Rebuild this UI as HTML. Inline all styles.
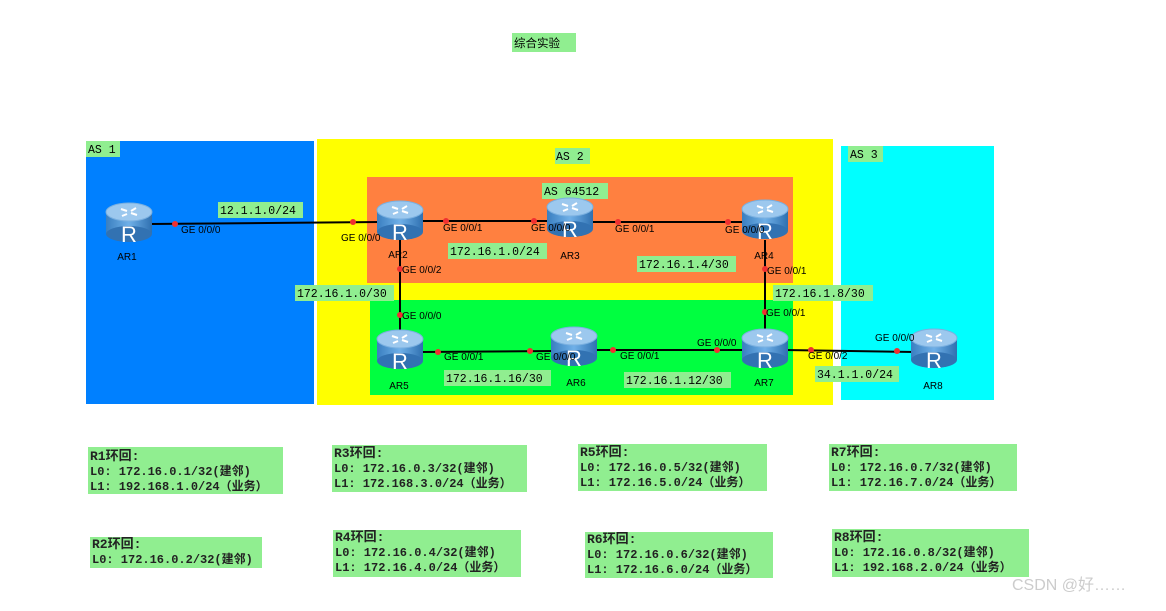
<!DOCTYPE html>
<html><head><meta charset="utf-8"><style>
body{margin:0;background:#fff;width:1166px;height:606px;overflow:hidden}
.t{font-family:"Liberation Mono","Noto Sans CJK SC",monospace;font-size:11.5px}
.b{font-size:12px}
.s{font-family:"Liberation Sans",sans-serif;font-size:10px}
</style></head><body>
<svg width="1166" height="606" xmlns="http://www.w3.org/2000/svg">
<defs>
<linearGradient id="g" x1="0" x2="1"><stop offset="0" stop-color="#3a7fc0"/><stop offset=".5" stop-color="#6fb0e8"/><stop offset="1" stop-color="#2f70b0"/></linearGradient>
<g id="r">
<rect x="-23" y="-8" width="46" height="22" fill="url(#g)"/>
<ellipse cx="0" cy="14" rx="23" ry="8" fill="#3272b2"/>
<ellipse cx="0" cy="-8" rx="23" ry="9" fill="#9cc8ee" stroke="#7ab0e0"/>
<path d="M-8 -11 l6 2 M8 -5 l-6 -2 M-7 -4 l5 -2 M7 -12 l-5 3" stroke="#fff" stroke-width="2"/>
</g>
</defs>
<rect x="512" y="33" width="64" height="19" fill="#90ee90"/>
<text x="514" y="47" class="t" font-size="13">综合实验</text>
<rect x="86" y="141" width="228" height="263" fill="#0080ff"/>
<rect x="317" y="139" width="516" height="266" fill="#ffff00"/>
<rect x="367" y="177" width="426" height="106" fill="#ff8040"/>
<rect x="370" y="300" width="423" height="95" fill="#00ff40"/>
<rect x="841" y="146" width="153" height="254" fill="#00ffff"/>
<rect x="86" y="141" width="34" height="16" fill="#90ee90"/><text x="88" y="153" class="t">AS 1</text>
<rect x="555" y="148" width="35" height="16" fill="#90ee90"/><text x="556" y="160" class="t">AS 2</text>
<rect x="542" y="183" width="66" height="16" fill="#90ee90"/><text x="544" y="195" class="t">AS 64512</text>
<rect x="848" y="146" width="35" height="16" fill="#90ee90"/><text x="850" y="158" class="t">AS 3</text>
<g stroke="#000" stroke-width="2">
<line x1="150" y1="224" x2="380" y2="222"/>
<line x1="420" y1="221" x2="550" y2="221"/>
<line x1="590" y1="222" x2="745" y2="222"/>
<line x1="400" y1="238" x2="400" y2="330"/>
<line x1="765" y1="240" x2="765" y2="330"/>
<line x1="420" y1="352" x2="555" y2="351"/>
<line x1="595" y1="350" x2="745" y2="350"/>
<line x1="785" y1="350" x2="915" y2="352"/>
</g>
<g fill="#f03030">
<circle cx="175" cy="224" r="3"/><circle cx="353" cy="222" r="3"/><circle cx="446" cy="221" r="3"/><circle cx="534" cy="221" r="3"/>
<circle cx="618" cy="222" r="3"/><circle cx="728" cy="222" r="3"/><circle cx="400" cy="269" r="3"/><circle cx="400" cy="315" r="3"/>
<circle cx="765" cy="269" r="3"/><circle cx="765" cy="312" r="3"/><circle cx="438" cy="352" r="3"/><circle cx="530" cy="351" r="3"/>
<circle cx="613" cy="350" r="3"/><circle cx="717" cy="350" r="3"/><circle cx="811" cy="350" r="3"/><circle cx="897" cy="351" r="3"/>
</g>
<use href="#r" x="129" y="220"/><use href="#r" x="400" y="218"/><use href="#r" x="570" y="215"/><use href="#r" x="765" y="217"/>
<use href="#r" x="400" y="347"/><use href="#r" x="574" y="344"/><use href="#r" x="765" y="346"/><use href="#r" x="934" y="346"/>
<g fill="#fff" font-family="Liberation Sans,sans-serif" font-size="22" text-anchor="middle">
<text x="129" y="242">R</text><text x="400" y="240">R</text><text x="570" y="237">R</text><text x="765" y="239">R</text>
<text x="400" y="369">R</text><text x="574" y="366">R</text><text x="765" y="368">R</text><text x="934" y="368">R</text>
</g>
<g class="s" text-anchor="middle" font-size="11">
<text x="127" y="260">AR1</text><text x="398" y="258">AR2</text><text x="570" y="259">AR3</text><text x="764" y="259">AR4</text>
<text x="399" y="389">AR5</text><text x="576" y="386">AR6</text><text x="764" y="386">AR7</text><text x="933" y="389">AR8</text>
</g>
<g class="s">
<text x="181" y="233">GE 0/0/0</text><text x="341" y="241">GE 0/0/0</text><text x="443" y="231">GE 0/0/1</text><text x="531" y="231">GE 0/0/0</text>
<text x="615" y="232">GE 0/0/1</text><text x="725" y="233">GE 0/0/0</text><text x="402" y="273">GE 0/0/2</text><text x="402" y="319">GE 0/0/0</text>
<text x="767" y="274">GE 0/0/1</text><text x="766" y="316">GE 0/0/1</text><text x="444" y="360">GE 0/0/1</text><text x="536" y="360">GE 0/0/0</text>
<text x="620" y="359">GE 0/0/1</text><text x="697" y="346">GE 0/0/0</text><text x="808" y="359">GE 0/0/2</text><text x="875" y="341">GE 0/0/0</text>
</g>
<g fill="#90ee90">
<rect x="218" y="202" width="85" height="16"/><rect x="448" y="243" width="99" height="16"/><rect x="637" y="256" width="99" height="16"/>
<rect x="295" y="285" width="99" height="16"/><rect x="773" y="285" width="100" height="16"/><rect x="444" y="370" width="107" height="16"/>
<rect x="624" y="372" width="107" height="16"/><rect x="815" y="366" width="84" height="16"/>
</g>
<g class="t">
<text x="220" y="214">12.1.1.0/24</text><text x="450" y="255">172.16.1.0/24</text><text x="639" y="268">172.16.1.4/30</text>
<text x="297" y="297">172.16.1.0/30</text><text x="775" y="297">172.16.1.8/30</text><text x="446" y="382">172.16.1.16/30</text>
<text x="626" y="384">172.16.1.12/30</text><text x="817" y="378">34.1.1.0/24</text>
</g>
<g fill="#90ee90">
<rect x="88" y="447" width="195" height="47"/><rect x="332" y="445" width="195" height="47"/><rect x="578" y="444" width="189" height="47"/><rect x="829" y="444" width="188" height="47"/>
<rect x="90" y="537" width="172" height="31"/><rect x="333" y="530" width="188" height="47"/><rect x="585" y="532" width="188" height="46"/><rect x="832" y="529" width="197" height="48"/>
</g>
<g class="t b" fill="#222" font-weight="bold">
<text x="90" y="460"><tspan font-size="13">R1环回:</tspan><tspan x="90" dy="15">L0: 172.16.0.1/32(建邻)</tspan><tspan x="90" dy="15">L1: 192.168.1.0/24（业务）</tspan></text>
<text x="334" y="457"><tspan font-size="13">R3环回:</tspan><tspan x="334" dy="15">L0: 172.16.0.3/32(建邻)</tspan><tspan x="334" dy="15">L1: 172.168.3.0/24（业务）</tspan></text>
<text x="580" y="456"><tspan font-size="13">R5环回:</tspan><tspan x="580" dy="15">L0: 172.16.0.5/32(建邻)</tspan><tspan x="580" dy="15">L1: 172.16.5.0/24（业务）</tspan></text>
<text x="831" y="456"><tspan font-size="13">R7环回:</tspan><tspan x="831" dy="15">L0: 172.16.0.7/32(建邻)</tspan><tspan x="831" dy="15">L1: 172.16.7.0/24（业务）</tspan></text>
<text x="92" y="548"><tspan font-size="13">R2环回:</tspan><tspan x="92" dy="15">L0: 172.16.0.2/32(建邻)</tspan></text>
<text x="335" y="541"><tspan font-size="13">R4环回:</tspan><tspan x="335" dy="15">L0: 172.16.0.4/32(建邻)</tspan><tspan x="335" dy="15">L1: 172.16.4.0/24（业务）</tspan></text>
<text x="587" y="543"><tspan font-size="13">R6环回:</tspan><tspan x="587" dy="15">L0: 172.16.0.6/32(建邻)</tspan><tspan x="587" dy="15">L1: 172.16.6.0/24（业务）</tspan></text>
<text x="834" y="541"><tspan font-size="13">R8环回:</tspan><tspan x="834" dy="15">L0: 172.16.0.8/32(建邻)</tspan><tspan x="834" dy="15">L1: 192.168.2.0/24（业务）</tspan></text>
</g>
<text x="1012" y="590" font-family="Liberation Sans,Noto Sans CJK SC,sans-serif" font-size="16" fill="#ccc">CSDN @好……</text>
</svg>
</body></html>
